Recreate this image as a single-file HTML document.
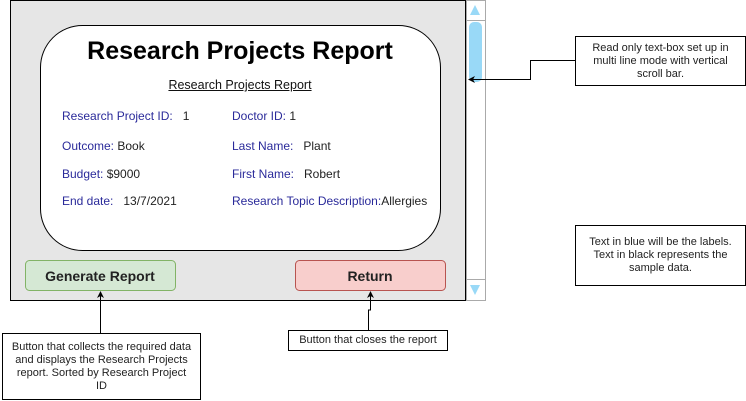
<!DOCTYPE html>
<html><head><style>
body{margin:0;width:746px;height:401px;background:#fff;position:relative;font-family:"Liberation Sans",sans-serif;overflow:hidden}
.a{position:absolute;box-sizing:border-box}
.t{position:absolute;font-size:12px;color:#222;white-space:nowrap}
.l{color:#2a2a9a}
.note{position:absolute;box-sizing:border-box;border:1px solid #000;background:#fff;font-size:11px;color:#222;text-align:center;line-height:13px;display:flex;align-items:center;justify-content:center}
</style></head><body>
<div class="a" style="left:10px;top:0;width:456px;height:301px;background:#e6e6e6;border:1px solid #000"></div>
<div class="a" style="left:466px;top:0;width:20px;height:301px;background:#fff;border:1px solid #aaa"></div>
<div class="a" style="left:466px;top:20px;width:20px;height:260px;border-top:1px solid #aaa;border-bottom:1px solid #aaa"></div>
<div class="a" style="left:469px;top:22px;width:13px;height:60px;background:#99d9f7;border-radius:5px"></div>
<svg class="a" style="left:0;top:0" width="746" height="401">
<polygon points="475,5 470,15 480,15" fill="#99d9f7"/>
<polygon points="470,285 480,285 475,295" fill="#99d9f7"/>
<rect x="40.5" y="25.5" width="400" height="225" rx="42" fill="#fff" stroke="#000"/>
<rect x="25.5" y="260.5" width="150" height="30" rx="4" fill="#d5e8d4" stroke="#82b366"/>
<rect x="295.5" y="260.5" width="150" height="30" rx="4" fill="#f8cecc" stroke="#b85450"/>
<path d="M575 60.5 H530.5 V79.5 H472" fill="none" stroke="#000"/>
<polygon points="468,79.5 475,76 473,79.5 475,83" fill="#000"/>
<path d="M100.5 333 V296" fill="none" stroke="#000"/>
<polygon points="100.5,291 97,298 100.5,296 104,298" fill="#000"/>
<path d="M368.5 330 V310 H370.5 V296" fill="none" stroke="#000"/>
<polygon points="370.5,291 367,298 370.5,296 374,298" fill="#000"/>
</svg>
<div class="t" style="left:40px;width:400px;top:37px;text-align:center;font-size:25px;font-weight:bold;color:#000">Research Projects Report</div>
<div class="t" style="left:40px;width:400px;top:78px;text-align:center;text-decoration:underline;font-size:12.5px;color:#111">Research Projects Report</div>
<div class="t" style="left:62px;top:109px"><span class="l">Research Project ID:</span>&nbsp;&nbsp; 1</div>
<div class="t" style="left:232px;top:109px"><span class="l">Doctor ID:</span> 1</div>
<div class="t" style="left:62px;top:139px"><span class="l">Outcome:</span> Book</div>
<div class="t" style="left:232px;top:139px"><span class="l">Last Name:</span>&nbsp;&nbsp; Plant</div>
<div class="t" style="left:62px;top:167px"><span class="l">Budget:</span> $9000</div>
<div class="t" style="left:232px;top:167px"><span class="l">First Name:</span>&nbsp;&nbsp; Robert</div>
<div class="t" style="left:62px;top:194px"><span class="l">End date:</span>&nbsp;&nbsp; 13/7/2021</div>
<div class="t" style="left:232px;top:194px"><span class="l">Research Topic Description:</span>Allergies</div>
<div class="t" style="left:25px;width:150px;top:268px;text-align:center;font-size:14px;font-weight:bold">Generate Report</div>
<div class="t" style="left:295px;width:150px;top:268px;text-align:center;font-size:14px;font-weight:bold">Return</div>
<div class="note" style="left:575px;top:36px;width:171px;height:50px">Read only text-box set up in<br>multi line mode with vertical<br>scroll bar.</div>
<div class="note" style="left:575px;top:225px;width:171px;height:61px">Text in blue will be the labels.<br>Text in black represents the<br>sample data.</div>
<div class="note" style="left:2px;top:333px;width:199px;height:67px">Button that collects the required data<br>and displays the Research Projects<br>report. Sorted by Research Project<br>ID</div>
<div class="note" style="left:288px;top:330px;width:160px;height:21px">Button that closes the report</div>
</body></html>
